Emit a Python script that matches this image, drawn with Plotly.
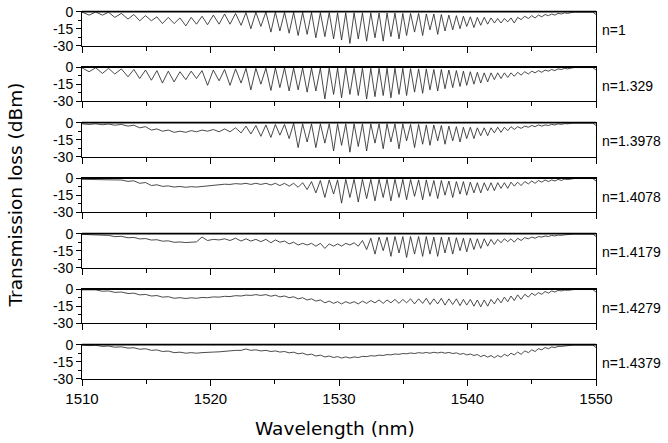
import plotly.graph_objects as go

# ---------------- data ----------------
LABELS = ["n=1", "n=1.329", "n=1.3978", "n=1.4078", "n=1.4179", "n=1.4279", "n=1.4379"]

# wavelengths of the interference dips (nm)
DIP_NM = [1510.55, 1511.59, 1512.55, 1513.58, 1514.49, 1515.40, 1516.26, 1517.17, 1518.08, 1518.91,
          1519.77, 1520.67, 1521.52, 1522.38, 1523.14, 1523.92, 1524.70, 1525.40, 1526.12, 1526.82,
          1527.52, 1528.20, 1528.90, 1529.58, 1530.20, 1530.85, 1531.50, 1532.15, 1532.80, 1533.44,
          1534.04, 1534.67, 1535.26, 1535.88, 1536.51, 1537.08, 1537.68, 1538.25, 1538.85, 1539.42,
          1539.94, 1540.50, 1541.03, 1541.57, 1542.09, 1542.61, 1543.13, 1543.64, 1544.17, 1544.74,
          1545.26, 1545.78, 1546.30, 1546.80, 1547.30, 1547.80]

START_NM = 1510.0
TAIL_NM = [1548.3, 1549.75, 1550.0]

START_DB = [-0.3, -0.6, -1.0, -1.0, -0.6, -0.6, -0.3]
TAIL_DB = [-0.3, -0.3, -2.5]

DIPS_DB = [
    # n = 1
    [-3, -3, -5, -6.5, -8, -8, -10.5, -10.5, -12.5, -11, -11.5, -11, -11, -12, -15, -13, -18, -17, -19, -21,
     -20, -23, -22, -24, -25, -28, -24, -26, -23, -26, -22, -24, -21, -18, -21, -16, -20, -17, -16, -15,
     -13, -14, -12, -11, -10, -10, -9, -10, -7, -6, -5.5, -4.5, -3.5, -3, -2, -1.5],
    # n = 1.329
    [-4, -5.5, -6, -8.5, -10, -11.5, -14, -13, -11, -10, -16, -12, -16, -14, -20, -15, -20.5, -18, -21, -20,
     -22, -21, -28, -24, -27, -24, -25, -28, -26, -25, -27, -24, -25, -22, -23, -20, -21, -19, -18, -17,
     -16, -15, -14, -13, -11, -10, -9, -8, -7, -6, -5, -4.5, -3.5, -3, -2, -1.5],
    # n = 1.3978
    [-1.5, -1.8, -2.2, -3, -4.5, -6.5, -7.5, -8.5, -8.5, -8, -7.5, -8, -8, -9, -10, -12, -13, -11, -14, -22,
     -17, -22, -18, -25, -20, -26, -21, -25, -18, -23, -17, -23, -16, -22, -19, -20, -16, -19, -16, -17,
     -14, -14, -11.5, -11.5, -9, -8.5, -7, -6, -5, -4, -3.5, -3, -2.5, -2, -1.5, -1],
    # n = 1.4078
    [-1.2, -1.5, -2, -2.8, -4.5, -6.5, -7.2, -7.8, -8, -7.8, -7, -6, -5.5, -5.2, -5.5, -5.5, -6, -6.5, -7, -8,
     -10, -13, -17, -14, -22, -17, -21, -18, -20, -17, -20, -17, -19, -16, -19, -16, -18, -15, -17, -14,
     -15, -13, -13, -11, -11, -9, -9, -7, -6.5, -5, -4.5, -3.5, -3, -2.5, -2, -1.2],
    # n = 1.4179
    [-1, -1.8, -2.6, -3.6, -4.6, -5.6, -6.6, -7.6, -7.8, -7.2, -6, -5.5, -6, -6.5, -6.5, -7, -8, -7.5, -9, -10,
     -10, -11, -13, -11, -11, -10, -11, -14, -18, -15, -20, -17, -21, -18, -20, -18, -20, -17, -18, -15,
     -16, -14, -13, -11, -9.5, -8, -7, -7.5, -6, -4.5, -4, -3, -2.5, -2, -1.5, -1],
    # n = 1.4279
    [-0.8, -1.8, -2.8, -3.8, -5, -6, -7, -8, -8.2, -8, -7.5, -7, -6.5, -6, -5.5, -5.5, -6.2, -6.8, -7.5, -8.5,
     -9.5, -10.5, -12, -12.5, -13, -12.5, -13, -12.5, -12, -12.5, -12, -12.5, -12, -13, -12.5, -13.5, -13, -14, -13.5, -14.5,
     -14, -15, -15.5, -15, -13, -12, -11, -10, -9, -7, -5.5, -4.5, -3.5, -2.5, -1.5, -1],
    # n = 1.4379
    [-0.8, -1.5, -2.2, -3, -4, -5, -6, -7, -7.5, -7.5, -7, -6.3, -5.5, -5, -5, -5.5, -6, -6.5, -7.2, -8,
     -9, -10, -10.8, -11.3, -11.8, -11.8, -11.3, -10.5, -10, -9.5, -9, -8.5, -8, -7.8, -7.5, -7.5, -7.3, -7.5, -7.8, -8.5,
     -9, -9.5, -10.5, -11, -11.5, -11, -10, -9, -8.5, -7, -6, -4.5, -3.5, -2.5, -1.5, -0.8],
]

PEAKS_DB = [
    # n = 1
    [-0.3, -0.5, -1.5, -2.5, -3.5, -4.5, -5, -5.5, -5, -4, -3, -2, -1.5, -0.8, -0.5, -0.3, -0.3, -0.5, -0.5, -0.5,
     -0.5, -0.8, -0.8, -1, -1, -1, -1, -1, -1.2, -1.2, -1.2, -1.5, -1.5, -1.5, -2, -2, -2.5, -3, -3.5, -4,
     -4.5, -5, -5, -5.5, -6, -6, -5.5, -5, -4, -3.5, -3, -2.5, -2, -1.5, -1, -0.8],
    # n = 1.329
    [-0.5, -1, -1.5, -2, -2.5, -3, -3.5, -4, -3.5, -3, -2.5, -2, -1.5, -1, -1, -0.8, -0.5, -0.5, -0.6, -0.6,
     -0.7, -0.7, -0.8, -0.8, -0.8, -0.9, -0.9, -1, -1, -1, -1, -1, -1.2, -1.5, -1.5, -2, -2, -2.5, -3, -3.5,
     -4, -4.5, -5, -5, -5, -5, -5, -4.5, -4, -3.5, -3, -2.5, -2, -1.5, -1, -0.8],
    # n = 1.3978
    [-1, -1.2, -1.5, -2.2, -3.5, -5.5, -6.5, -7.5, -7, -6.5, -6, -5.5, -4.5, -3, -2.5, -2, -1.5, -1.5, -0.5, -1,
     -1, -1, -1, -1, -1, -1, -1, -1, -1, -1, -1, -1, -1.5, -1.5, -2, -2, -2.5, -3, -3.5, -4,
     -4, -4.5, -4.5, -4.5, -4, -4, -3.5, -3.5, -3, -2.5, -2, -2, -1.5, -1, -0.8, -0.5],
    # n = 1.4078
    [-1, -1.2, -1.6, -2.3, -3.8, -5.8, -6.8, -7.3, -7.5, -7.2, -6.3, -5.3, -4.8, -4.5, -4.5, -4.5, -4.5, -4.5, -4.5, -4,
     -3, -2, -1.5, -1.5, -1, -1, -1, -1, -1, -1, -1, -1, -1.2, -1.5, -1.5, -2, -2, -2.5, -3, -3,
     -3.5, -4, -4, -4, -4, -4, -3.5, -3.5, -3, -2.5, -2, -1.5, -1.5, -1, -0.8, -0.5],
    # n = 1.4179
    [-0.8, -1.5, -2.3, -3.3, -4.3, -5.3, -6.3, -7.3, -7.3, -3, -5, -4.5, -4, -4.5, -5, -5, -5.5, -6.5, -7.5, -8.5,
     -8.5, -8.5, -9, -9, -8.5, -8, -6, -4, -3, -3, -2.5, -2.5, -2.5, -2.5, -2.5, -3, -3, -3, -3.5, -4,
     -4, -4.5, -4.5, -5, -5, -4.5, -4.5, -4, -3.5, -3, -2.5, -2, -1.5, -1.2, -1, -0.5],
    # n = 1.4279
    [-0.6, -1.5, -2.5, -3.5, -4.6, -5.6, -6.6, -7.5, -7.6, -7.3, -6.8, -6.3, -5.7, -5.2, -4.8, -4.8, -5.3, -6, -6.7, -7.5,
     -8.5, -9.5, -10.5, -11, -11, -11, -10.5, -10, -9.5, -9.5, -9, -9, -8.5, -8.5, -8, -8.5, -8, -8.5, -8.5, -9,
     -9, -9.5, -9.5, -9, -8, -7, -6, -5, -4.5, -3.5, -3, -2, -1.5, -1, -0.8, -0.5],
    # n = 1.4379
    [-0.5, -1.2, -1.9, -2.7, -3.6, -4.6, -5.6, -6.6, -7, -7, -6.5, -5.8, -5, -3.8, -4.5, -5, -5.5, -6, -6.6, -7.4,
     -8.3, -9.2, -10, -10.5, -10.8, -10.8, -10.3, -9.7, -9.2, -8.7, -8.2, -7.8, -7.3, -7, -6.8, -6.7, -6.6, -6.8, -7.2, -7.7,
     -8.2, -8.7, -9.3, -9.5, -9.5, -8.5, -7.5, -6.5, -5.5, -4.5, -3.5, -2.5, -2, -1.5, -1, -0.5],
]

X_MAJOR = [1510, 1520, 1530, 1540, 1550]
X_MINOR = [1515, 1525, 1535, 1545]
Y_MAJOR = [0, -15, -30]
Y_MINOR = [-7.5, -22.5]

# ---------------- figure ----------------
W, H = 668, 443
FONT = "Liberation Sans, Arial, Helvetica, sans-serif"
TITLE_FONT = "DejaVu Sans, Liberation Sans, Arial, sans-serif"
TOP0, STEP, PH = 11.7, 55.5, 34.0


def build_xy(start, dips, peaks):
    xs, ys = [START_NM], [start]
    for i, (d, v, p) in enumerate(zip(DIP_NM, dips, peaks)):
        nxt = DIP_NM[i + 1] if i + 1 < len(DIP_NM) else TAIL_NM[0]
        xs += [d, (d + nxt) / 2]
        ys += [v, p]
    xs += TAIL_NM
    ys += TAIL_DB
    return xs, ys


fig = go.Figure()
layout = dict(
    width=W, height=H,
    margin=dict(l=82, r=72, t=0, b=0, autoexpand=False),
    paper_bgcolor="white", plot_bgcolor="white",
    showlegend=False,
    font=dict(family=FONT, color="black"),
)
annotations = []
shapes = []
for k in range(7):
    xs, ys = build_xy(START_DB[k], DIPS_DB[k], PEAKS_DB[k])
    ax = "" if k == 0 else str(k + 1)
    fig.add_trace(go.Scatter(x=xs, y=ys, mode="lines",
                             line=dict(color="#2a2a2a", width=0.85),
                             xaxis="x" + ax, yaxis="y" + ax, hoverinfo="skip"))
    top = TOP0 + STEP * k
    bot = top + PH
    layout["xaxis" + ax] = dict(
        domain=[0, 1], range=[1510, 1550], anchor="y" + ax,
        showline=True, mirror=True, linecolor="black", linewidth=1,
        showgrid=False, zeroline=False, automargin=False,
        ticks="outside", tickvals=X_MAJOR, ticklen=6, tickwidth=1, tickcolor="black",
        minor=dict(tickvals=X_MINOR, ticks="outside", ticklen=4, tickwidth=1, tickcolor="black"),
        showticklabels=(k == 6),
        tickfont=dict(size=15, family=FONT),
    )
    layout["yaxis" + ax] = dict(
        domain=[1 - bot / H, 1 - top / H], range=[-30, 0], anchor="x" + ax,
        showline=True, mirror=True, linecolor="black", linewidth=1,
        showgrid=False, zeroline=False, automargin=False,
        ticks="outside", tickvals=Y_MAJOR, ticktext=[str(v) for v in Y_MAJOR],
        ticklen=5, tickwidth=1, tickcolor="black",
        minor=dict(tickvals=Y_MINOR, ticks="outside", ticklen=3, tickwidth=1, tickcolor="black"),
        tickfont=dict(size=14, family=FONT),
    )
    # slightly heavier top frame line, as in the reference
    shapes.append(dict(type="line", xref="x" + ax + " domain", yref="y" + ax + " domain",
                       x0=0, x1=1, y0=1, y1=1, line=dict(color="black", width=1.8)))
    annotations.append(dict(
        text=LABELS[k], xref="paper", yref="paper",
        x=(600 - 82) / (W - 82 - 72), y=1 - (top + PH / 2 + 1.5) / H,
        xanchor="left", yanchor="middle", showarrow=False,
        font=dict(size=14, family=FONT, color="black"),
    ))

annotations.append(dict(
    text="Wavelength (nm)", xref="paper", yref="paper",
    x=(335 - 82) / (W - 82 - 72), y=1 - 428 / H, xanchor="center", yanchor="middle", showarrow=False,
    font=dict(size=18.5, family=TITLE_FONT, color="black"),
))
annotations.append(dict(
    text="Transmission loss (dBm)", xref="paper", yref="paper",
    x=(15 - 82) / (W - 82 - 72), y=1 - 195.5 / H, xanchor="center", yanchor="middle",
    textangle=-90, showarrow=False,
    font=dict(size=18.5, family=TITLE_FONT, color="black"),
))
layout["annotations"] = annotations
layout["shapes"] = shapes
fig.update_layout(**layout)
fig.write_html("out.html",
               config={"displayModeBar": False, "staticPlot": True},
               post_script="document.body.style.margin='0';document.body.style.padding='0';"
                           "document.documentElement.style.overflow='hidden';")
